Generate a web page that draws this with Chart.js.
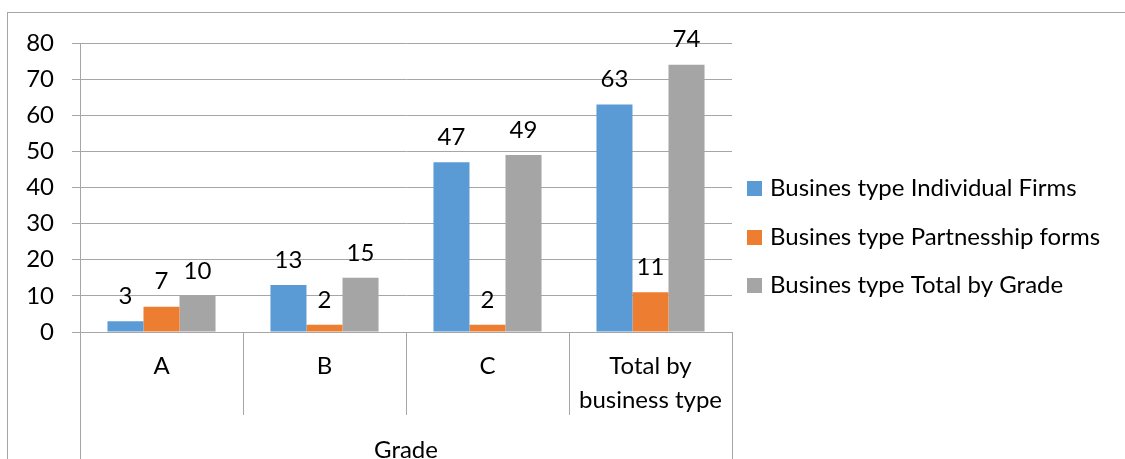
<!DOCTYPE html>
<html>
<head>
<meta charset="utf-8">
<script src="https://cdn.jsdelivr.net/npm/chart.js@4/dist/chart.umd.min.js"></script>
<style>
  html, body { margin: 0; padding: 0; background: #fff; }
  #wrap { width: 1125px; height: 459px; }
</style>
</head>
<body>
<div id="wrap"><canvas id="myChart" width="1125" height="459"></canvas></div>
<script>
const categories = ['A', 'B', 'C', 'Total by business type'];
const categoryLines = [['A'], ['B'], ['C'], ['Total by', 'business type']];
const groupLabel = 'Grade';
const individualFirms = [3, 13, 47, 63];
const partnershipForms = [7, 2, 2, 11];
const totalByGrade = [10, 15, 49, 74];
const seriesNames = [
    'Busines type Individual Firms',
    'Busines type Partnesship forms',
    'Busines type Total by Grade'
];
const seriesColors = ['#5b9bd5', '#ed7d31', '#a5a5a5'];

const fontFamily = 'Lato, "Open Sans", sans-serif';
const fontSize = 24;
const lineColor = '#a6a6a6';

const extrasPlugin = {
    id: 'extras',
    afterDraw(chart) {
        const ctx = chart.ctx;
        const area = chart.chartArea;
        const xs = chart.scales.x;
        const half = (xs.getPixelForValue(1) - xs.getPixelForValue(0)) / 2;
        ctx.save();

        // outer frame
        ctx.strokeStyle = lineColor;
        ctx.lineWidth = 1;
        ctx.strokeRect(7.5, 12.5, 1200, 600);

        // category separators
        ctx.beginPath();
        for (let i = 0; i <= categories.length; i++) {
            let x = Math.round(xs.getPixelForValue(i) - half) + 0.5;
            if (i == categories.length) x = Math.round(xs.getPixelForValue(i - 1) + half) + 0.5;
            const outer = (i == 0 || i == categories.length);
            ctx.moveTo(x, area.bottom);
            ctx.lineTo(x, outer ? 470 : area.bottom + 83);
        }
        ctx.stroke();

        ctx.fillStyle = '#000';
        ctx.font = fontSize + 'px ' + fontFamily;
        ctx.textAlign = 'center';
        ctx.textBaseline = 'middle';

        // category labels
        categoryLines.forEach((lines, i) => {
            const x = xs.getPixelForValue(i);
            lines.forEach((t, j) => ctx.fillText(t, x, 366 + j * 34));
        });
        ctx.fillText(groupLabel, (area.left + area.right) / 2, 450);

        // value labels
        chart.data.datasets.forEach((ds, di) => {
            const meta = chart.getDatasetMeta(di);
            meta.data.forEach((bar, i) => {
                ctx.fillText(String(ds.data[i]), bar.x, bar.y - 25);
            });
        });

        // legend
        ctx.textAlign = 'left';
        const rows = [188, 237, 285];
        seriesNames.forEach((name, i) => {
            ctx.fillStyle = seriesColors[i];
            ctx.fillRect(747, rows[i] - 7, 15, 15);
            ctx.fillStyle = '#000';
            ctx.fillText(name, 770, rows[i]);
        });
        ctx.restore();
    }
};

const data = {
    labels: categories,
    datasets: [individualFirms, partnershipForms, totalByGrade].map((vals, i) => ({
        label: seriesNames[i],
        data: vals,
        backgroundColor: seriesColors[i],
        borderWidth: 0,
        barPercentage: 1,
        categoryPercentage: 0.663
    }))
};

const config = {
    type: 'bar',
    data,
    options: {
        responsive: false,
        animation: false,
        devicePixelRatio: 1,
        layout: { padding: { top: 43, right: 393, bottom: 127, left: 0 } },
        plugins: { legend: { display: false }, tooltip: { enabled: false } },
        scales: {
            x: { display: false },
            y: {
                min: 0,
                max: 80,
                ticks: {
                    stepSize: 10,
                    color: '#000',
                    padding: 18,
                    font: { family: fontFamily, size: fontSize }
                },
                grid: { color: lineColor, tickLength: 8 },
                border: { color: lineColor },
                afterFit(scale) { scale.width = 80; }
            }
        }
    },
    plugins: [extrasPlugin]
};

const myChart = new Chart(document.getElementById('myChart'), config);
</script>
</body>
</html>
